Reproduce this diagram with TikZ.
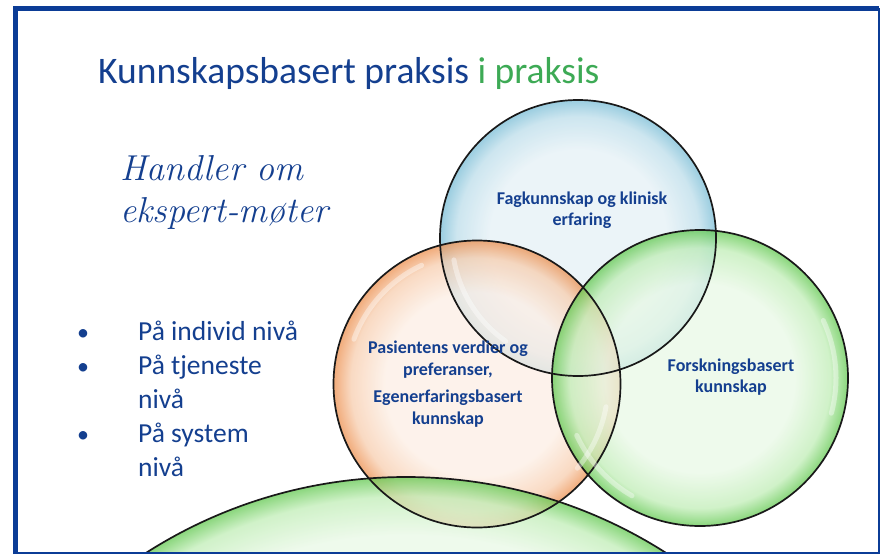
\documentclass[tikz,border=0pt]{standalone}
\usepackage{fontspec}
\setmainfont{Carlito}
\usetikzlibrary{positioning,calc}

\definecolor{rammeblaa}{HTML}{0B3C96}
\definecolor{tekstblaa}{HTML}{143F8F}
\definecolor{tittelgronn}{HTML}{3DAA55}
% farger til boblene
\definecolor{fagindre}{HTML}{E4F0F5}
\definecolor{fagmidt}{HTML}{BCDDEA}
\definecolor{fagkant}{HTML}{78BCD5}
\definecolor{pasindre}{HTML}{FCEEE4}
\definecolor{pasmidt}{HTML}{F7CDAE}
\definecolor{paskant}{HTML}{EC8F4E}
\definecolor{forsindre}{HTML}{E8F8E5}
\definecolor{forsmidt}{HTML}{C0EDB6}
\definecolor{forskant}{HTML}{62C850}

\pgfdeclareradialshading{boblefag}{\pgfpoint{0bp}{0bp}}{color(0bp)=(fagindre); color(16bp)=(fagindre); color(22bp)=(fagmidt); color(25bp)=(fagkant); color(50bp)=(fagkant)}
\pgfdeclareradialshading{boblepas}{\pgfpoint{0bp}{0bp}}{color(0bp)=(pasindre); color(16bp)=(pasindre); color(22bp)=(pasmidt); color(25bp)=(paskant); color(50bp)=(paskant)}
\pgfdeclareradialshading{boblefors}{\pgfpoint{0bp}{0bp}}{color(0bp)=(forsindre); color(16bp)=(forsindre); color(22bp)=(forsmidt); color(25bp)=(forskant); color(50bp)=(forskant)}
\pgfdeclareradialshading{boblebunn}{\pgfpoint{0bp}{0bp}}{color(0bp)=(forsindre); color(22bp)=(forsindre); color(24bp)=(forsmidt); color(25bp)=(forskant); color(50bp)=(forskant)}

\newcommand{\handfont}{\fontfamily{lmr}\fontshape{it}\selectfont}

\tikzset{
  boble/.style={circle, inner sep=0pt, minimum size=#1, fill opacity=0.75},
  rim/.style={draw=black!90, line width=1.7pt},
  glans/.style={white, line width=5pt, opacity=0.4, line cap=round},
  sirkeltekst/.style={font=\bfseries\fontsize{18}{21.5}\selectfont, text=tekstblaa, align=center},
  punkt/.style={font=\fontsize{27.5}{34}\selectfont, text=tekstblaa, anchor=base west, inner sep=0pt},
  kule/.style={font=\fontsize{24}{30}\selectfont, text=tekstblaa, anchor=base, inner sep=0pt},
}

\begin{document}
\begin{tikzpicture}[x=1pt, y=-1pt]
  \useasboundingbox (0,0) rectangle (882,554);

  % bobler
  \begin{scope}
    \clip (15,8) rectangle (879,553);
    \node[boble=276pt, shading=boblefag] (fag) at (578,238) {};
    \node[boble=287pt, shading=boblepas] (pas) at (477,384) {};
    \node[boble=296pt, shading=boblefors] (fors) at (700,378) {};
    \node[boble=966pt, shading=boblebunn] (bunn) at (406,960) {};

    \foreach \n/\r in {fag/138, pas/143.5, fors/148, bunn/483}
      \draw[rim] (\n.center) circle (\r pt);

    % glans
    \draw[glans] ([shift={(190:126pt)}]fag.center) arc[start angle=190, end angle=235, radius=126pt];
    \draw[glans] ([shift={(115:131pt)}]pas.center) arc[start angle=115, end angle=160, radius=131pt];
    \draw[glans] ([shift={(-40:131pt)}]pas.center) arc[start angle=-40, end angle=-10, radius=131pt];
    \draw[glans] ([shift={(-15:136pt)}]fors.center) arc[start angle=-15, end angle=25, radius=136pt];
    \draw[glans] ([shift={(205:136pt)}]fors.center) arc[start angle=205, end angle=240, radius=136pt];
  \end{scope}

  % ramme
  \draw[rammeblaa, line width=5pt] (15,554) -- (15,8.5) -- (879,8.5);
  \draw[rammeblaa, line width=2pt] (879,8) -- (879,553) -- (14,553);

  % tittel
  \node[anchor=base west, inner sep=0pt, font=\fontsize{37.5}{44}\selectfont, text=tekstblaa] (tittel) at (98,83)
    {Kunnskapsbasert praksis \textcolor{tittelgronn}{i praksis}};

  % handskrift
  \node[anchor=base west, inner sep=0pt, font=\handfont\fontsize{36}{42}\selectfont, text=tekstblaa] (handler) at (120,180) {Handler om};
  \node[anchor=base west, inner sep=0pt, font=\handfont\fontsize{36}{42}\selectfont, text=tekstblaa] (ekspert) at (120,222) {ekspert-møter};

  % nivaer
  \coordinate (kulekant) at (83,0);
  \node[punkt] (niva1) at (138,340) {På individ nivå};
  \node[punkt] (niva2) at (138,374) {På tjeneste};
  \node[punkt] (niva2b) at (138,408) {nivå};
  \node[punkt] (niva3) at (138,442) {På system};
  \node[punkt] (niva3b) at (138,476) {nivå};
  \foreach \n in {niva1,niva2,niva3}
    \node[kule] at (\n.base -| kulekant) {•};

  % tekst i boblene
  \node[sirkeltekst] (fagtekst) at ($(fag)+(4,-28)$) {Fagkunnskap og klinisk\\erfaring};
  \node[sirkeltekst] (pastekst) at ($(pas)+(-29,0)$) {Pasientens verdier og\\preferanser,\\[6pt]Egenerfaringsbasert\\kunnskap};
  \node[sirkeltekst] (forstekst) at ($(fors)+(31,-1)$) {Forskningsbasert\\kunnskap};
\end{tikzpicture}
\end{document}
